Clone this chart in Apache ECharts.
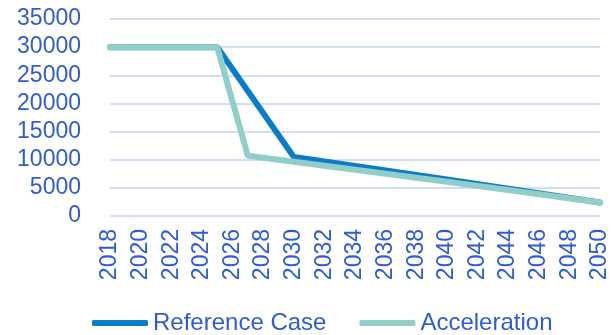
<html>
    <head>
        <meta charset="utf-8">
        <script src="https://cdn.jsdelivr.net/npm/echarts@6/dist/echarts.min.js"></script>
    </head>
    <body style="margin:0">
        <div id="main" style="width:613px;height:335px"></div>
        <script>
            var years = [];
            for (var y = 2018; y <= 2050; y++) years.push(String(y));

            // values at the bends; null elsewhere, joined straight
            var referenceCase = {
                '2018': 30000, '2025': 30000, '2030': 10500, '2040': 6500, '2050': 2400
            };
            var acceleration = {
                '2018': 30000, '2025': 30000, '2027': 10700, '2040': 6100, '2050': 2400
            };

            function toSeries(points) {
                return years.map(function (yr) {
                    return points[yr] === undefined ? null : points[yr];
                });
            }

            var textColor = '#2F5BD4';
            var font = 'Liberation Sans';
            var chart = echarts.init(document.getElementById('main'));

            chart.setOption({
                animation: false,
                grid: { left: 110, right: 13, top: 19, bottom: 119 },
                legend: {
                    bottom: -5,
                    left: 87,
                    itemWidth: 56,
                    itemHeight: 6,
                    itemGap: 33,
                    icon: 'roundRect',
                    textStyle: { color: textColor, fontSize: 24, fontFamily: font },
                    data: ['Reference Case', 'Acceleration']
                },
                xAxis: {
                    type: 'category',
                    data: years,
                    boundaryGap: false,
                    axisLine: { show: false },
                    axisTick: { show: false },
                    axisLabel: {
                        interval: 1,
                        rotate: 90,
                        color: textColor,
                        fontSize: 23,
                        fontFamily: font,
                        margin: 13
                    }
                },
                yAxis: {
                    type: 'value',
                    min: 0,
                    max: 35000,
                    interval: 5000,
                    axisLabel: {
                        color: textColor, fontSize: 23, fontFamily: font, margin: 29,
                        formatter: function (v) { return String(v); }
                    },
                    splitLine: { lineStyle: { color: '#D3DDF7', width: 2 } }
                },
                series: [
                    {
                        name: 'Reference Case',
                        type: 'line',
                        data: toSeries(referenceCase),
                        connectNulls: true,
                        symbol: 'none',
                        color: '#0C7CC7',
                        lineStyle: { width: 6, cap: 'round' }
                    },
                    {
                        name: 'Acceleration',
                        type: 'line',
                        data: toSeries(acceleration),
                        connectNulls: true,
                        symbol: 'none',
                        color: '#92CEC9',
                        lineStyle: { width: 6, cap: 'round' }
                    }
                ]
            });
        </script>
    </body>
</html>
